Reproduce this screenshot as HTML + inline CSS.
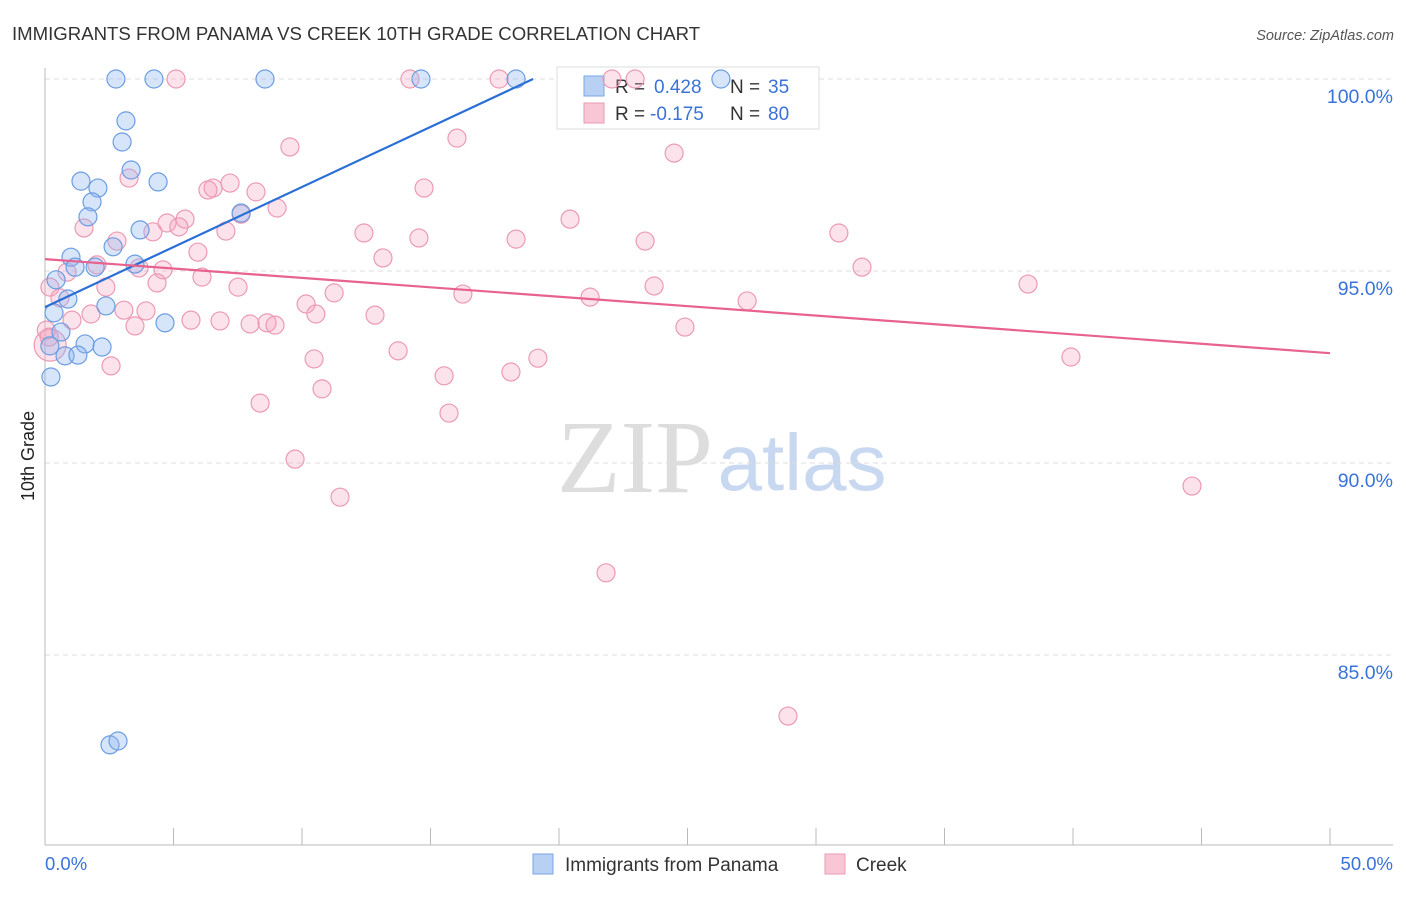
<!DOCTYPE html>
<html><head><meta charset="utf-8"><style>
body{margin:0;background:#fff;font-family:"Liberation Sans",sans-serif}
svg text{font-family:"Liberation Sans",sans-serif}
</style></head><body>
<svg id="chart" width="1406" height="892" viewBox="0 0 1406 892">
<text x="12" y="40" font-size="18.6" fill="#333">IMMIGRANTS FROM PANAMA VS CREEK 10TH GRADE CORRELATION CHART</text>
<text x="1394" y="40" font-size="14.5" fill="#555" font-style="italic" text-anchor="end">Source: ZipAtlas.com</text>
<g>
<text x="635" y="492" font-size="104" fill="#ddd" text-anchor="middle" style="font-family:'Liberation Serif',serif">ZIP</text>
<text x="802" y="490" font-size="80" fill="#c8d8f0" text-anchor="middle">atlas</text>
</g>
<g id="grid"></g>
<g id="axes"></g>
<g>
<rect x="557" y="67" width="262" height="62" fill="#fff" stroke="#ddd"/>
<rect x="584" y="76" width="20" height="20" fill="#b8d0f4" stroke="#7aa6e6"/>
<text x="615" y="93" font-size="19" fill="#333">R = </text><text x="654" y="93" font-size="19" fill="#3a72d8">0.428</text>
<text x="730" y="93" font-size="19" fill="#333">N = </text><text x="768" y="93" font-size="19" fill="#3a72d8">35</text>
<rect x="584" y="103" width="20" height="20" fill="#f9c6d6" stroke="#ec9ab4"/>
<text x="615" y="120" font-size="19" fill="#333">R = </text><text x="650" y="120" font-size="19" fill="#3a72d8">-0.175</text>
<text x="730" y="120" font-size="19" fill="#333">N = </text><text x="768" y="120" font-size="19" fill="#3a72d8">80</text>
</g>
<g id="marks"></g>
<text x="34" y="456" font-size="18" fill="#222" text-anchor="middle" transform="rotate(-90 34 456)">10th Grade</text>
<g>
<rect x="533" y="854" width="20" height="20" fill="#b8d0f4" stroke="#7aa6e6"/>
<text x="565" y="871" font-size="19" fill="#333">Immigrants from Panama</text>
<rect x="825" y="854" width="20" height="20" fill="#f9c6d6" stroke="#ec9ab4"/>
<text x="856" y="871" font-size="19" fill="#333">Creek</text>
</g>
</svg>
<script>
const blueX=[2.76,4.24,8.56,14.63,18.33,26.30,3.15,3.00,3.35,1.40,2.06,4.40,1.83,1.67,7.63,3.70,1.01,2.65,1.17,1.95,3.50,0.43,0.89,2.37,0.35,4.67,0.62,1.56,2.22,0.78,1.28,0.19,0.23,2.53,2.84];
const blueY=[100,100,100,100,100,100,98.91,98.36,97.63,97.34,97.16,97.32,96.80,96.41,96.51,96.07,95.36,95.63,95.10,95.10,95.18,94.77,94.27,94.09,93.91,93.65,93.41,93.10,93.02,92.79,92.81,93.05,92.24,82.66,82.76];
const pinkX=[5.10,14.20,17.67,22.06,22.96,16.03,9.53,24.48,3.27,7.20,6.54,6.34,8.21,14.75,7.63,9.03,5.45,4.75,5.21,1.52,4.20,7.04,12.41,14.55,18.33,20.43,23.35,30.89,2.80,5.95,13.15,2.02,3.66,4.59,31.79,6.11,0.19,2.37,4.36,7.51,23.70,38.25,0.86,11.25,16.26,21.21,27.32,0.58,10.16,10.54,3.07,3.93,1.79,1.05,5.68,6.81,7.98,8.64,8.95,12.84,3.50,24.90,0.16,2.57,13.74,10.47,19.18,39.92,15.53,18.13,10.78,8.37,15.72,9.73,11.48,44.63,21.83,28.91,0.20,0.05];
const pinkY=[100,100,100,100,100,98.46,98.23,98.07,97.42,97.29,97.16,97.11,97.06,97.16,96.48,96.64,96.35,96.25,96.15,96.12,96.02,96.04,95.99,95.86,95.83,96.35,95.78,95.99,95.78,95.49,95.34,95.16,95.08,95.03,95.10,94.84,94.58,94.58,94.69,94.58,94.61,94.66,94.97,94.43,94.40,94.32,94.22,94.30,94.14,93.88,93.98,93.96,93.88,93.72,93.72,93.70,93.62,93.65,93.59,93.85,93.57,93.54,93.28,92.53,92.92,92.71,92.73,92.76,92.27,92.37,91.93,91.56,91.30,90.10,89.11,89.40,87.14,83.41,93.07,93.46];
const blueTrend=[94.06,18.99,100];   // y at x=0, x end, y at x end
const pinkTrend=[95.31,92.86];       // y at x=0, y at x=50
const yTicks=[100,95,90,85];
const yTickLabels=["100.0%","95.0%","90.0%","85.0%"];
const xTickVals=[0,5,10,15,20,25,30,35,40,45,50];
const NS='http://www.w3.org/2000/svg';
const sx=v=>45+v/50*1285;
const sy=v=>79+(100-v)/5*192;
function mk(tag,attrs,parent){const e=document.createElementNS(NS,tag);for(const k in attrs)e.setAttribute(k,attrs[k]);document.getElementById(parent).appendChild(e);return e;}
yTicks.forEach((t,i)=>{
 const g=mk('line',{x1:45,x2:1393,y1:sy(t),y2:sy(t),stroke:'#ddd','stroke-dasharray':'5,4'},'grid');
 
 
 const tx=mk('text',{x:1393,y:sy(t)+24,'font-size':19.5,fill:'#3a72d8','text-anchor':'end'},'axes');
 tx.textContent=yTickLabels[i];
 
 
});
const ya=mk('line',{x1:45,x2:45,y1:68,y2:845,stroke:'#bbb'},'axes');


const xa=mk('line',{x1:45,x2:1393,y1:845,y2:845,stroke:'#bbb'},'axes');


xTickVals.forEach(v=>{
 const t=mk('line',{x1:sx(v),x2:sx(v),y1:828,y2:845,stroke:'#bbb'},'axes');
 
 
});
const x0=mk('text',{x:45,y:870,'font-size':18.5,fill:'#3a72d8'},'axes');x0.textContent='0.0%';


const x1=mk('text',{x:1393,y:870,'font-size':18.5,fill:'#3a72d8','text-anchor':'end'},'axes');x1.textContent='50.0%';


pinkX.forEach((v,i)=>{
 const c=mk('circle',{cx:sx(v),cy:sy(pinkY[i]),r:i===pinkX.length-2?16:9,fill:'rgba(244,160,188,0.3)',stroke:'#ec9ab4','stroke-width':1.2},'marks');
 
 
});
blueX.forEach((v,i)=>{
 const c=mk('circle',{cx:sx(v),cy:sy(blueY[i]),r:9,fill:'rgba(140,180,240,0.35)',stroke:'#6c9de2','stroke-width':1.2},'marks');
 
 
});
const bl=mk('line',{x1:sx(0),y1:sy(blueTrend[0]),x2:sx(blueTrend[1]),y2:sy(blueTrend[2]),stroke:'#2a6fd6','stroke-width':2.2},'marks');


const pl=mk('line',{x1:sx(0),y1:sy(pinkTrend[0]),x2:sx(50),y2:sy(pinkTrend[1]),stroke:'#e8628f','stroke-width':2.2},'marks');


</script>
</body></html>
